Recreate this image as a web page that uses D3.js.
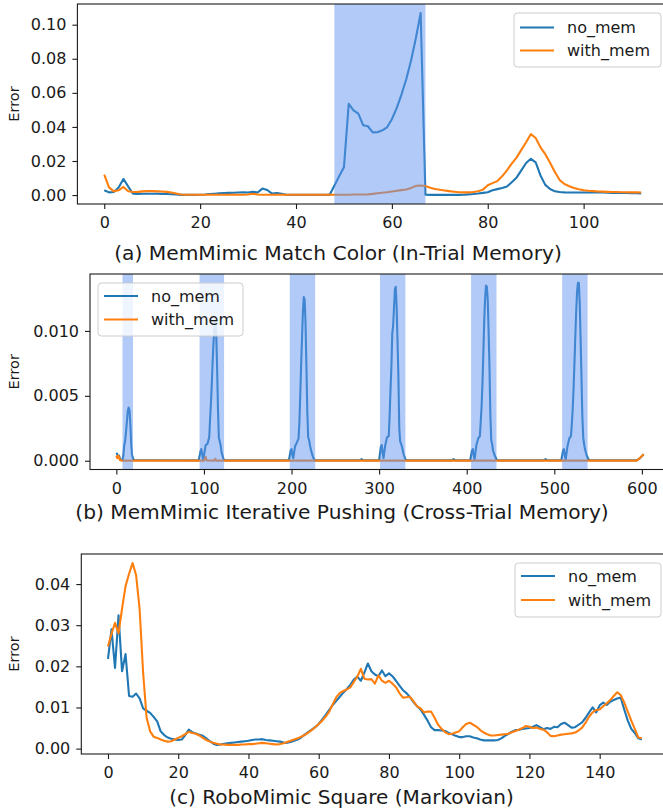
<!DOCTYPE html>
<html><head><meta charset="utf-8">
<script src="https://cdn.jsdelivr.net/npm/d3@7"></script>
<style>body{margin:0;background:#fff;} text{font-family:"DejaVu Sans",sans-serif;fill:#1a1a1a;}</style>
</head><body><svg id="c" width="663" height="812"></svg>
<script>
// ---------------- DATA ----------------
const seriesNames = ["no_mem", "with_mem"];
const seriesColors = ["#1f77b4", "#ff7f0e"];
const titles = [
  "(a) MemMimic Match Color (In-Trial Memory)",
  "(b) MemMimic Iterative Pushing (Cross-Trial Memory)",
  "(c) RoboMimic Square (Markovian)"
];
const yLabel = "Error";

// Panel (a): one value per step 0..112
const aNoMem = [
  0.0028,0.0016,0.0018,0.0045,0.0095,0.005,0.0008,0.0007,0.0008,0.0008,
  0.0008,0.0008,0.0007,0.0006,0.0005,0.0003,0.0001,0.0001,0.0001,0.0001,
  0.0002,0.0003,0.0006,0.0008,0.001,0.0012,0.0013,0.0014,0.0015,0.0016,
  0.0015,0.002,0.0015,0.0038,0.003,0.0009,0.0012,0.0008,0.0002,0.0001,
  0.0001,0.0001,0.0001,0.0001,0.0001,0.0001,0.0001,0.0001,
  0.0055,0.011,0.0163,0.0535,0.0497,0.0478,0.041,0.0404,0.0368,0.0369,0.038,0.0398,
  0.0445,0.051,0.059,0.068,0.079,0.092,0.1068,0.0002,0.0001,0.0001,
  0.0001,0.0001,0.0001,0.0001,0.0001,0.0002,0.0004,0.0006,0.0009,0.0013,
  0.0017,0.0028,0.0035,0.0042,0.005,0.0075,0.0102,0.0145,0.0188,0.0213,
  0.0192,0.0115,0.006,0.0036,0.0022,0.0018,0.0016,0.0015,0.0015,0.0015,
  0.0015,0.0015,0.0015,0.0015,0.0015,0.0014,0.0013,0.0013,0.0012,0.0012,0.0011,0.0011,0.001
];
const aWithMem = [
  0.012,0.0045,0.0022,0.0028,0.0048,0.0022,0.0018,0.0019,0.0022,0.0023,
  0.0023,0.0022,0.0021,0.0019,0.0015,0.0009,0.0003,0.0002,0.0002,0.0002,
  0.0002,0.0002,0.0002,0.0002,0.0002,0.0002,0.0002,0.0002,0.0002,0.0002,
  0.0003,0.0008,0.0003,0.0002,0.0002,0.0002,0.0002,0.0002,0.0002,0.0002,
  0.0002,0.0002,0.0002,0.0002,0.0002,0.0002,0.0002,0.0002,
  0.0002,0.0002,0.0002,0.0002,0.0003,0.0003,0.0003,0.0004,0.0007,0.0011,0.0014,0.0017,
  0.0021,0.0025,0.0029,0.0033,0.0042,0.0054,0.0056,0.0053,0.0043,0.0036,
  0.0031,0.0027,0.0023,0.002,0.0017,0.0016,0.0016,0.0018,0.0022,0.0032,
  0.0058,0.007,0.0082,0.011,0.0145,0.0185,0.022,0.0265,0.031,0.0358,
  0.0335,0.028,0.024,0.019,0.0135,0.0088,0.0065,0.0052,0.0042,0.0034,
  0.0028,0.0025,0.0023,0.0021,0.002,0.0019,0.0018,0.0018,0.0017,0.0017,0.0016,0.0016,0.0015
];
const aSpans = [[48, 67]];
const aXTicks = [0, 20, 40, 60, 80, 100];
const aYTicks = [0, 0.02, 0.04, 0.06, 0.08, 0.10];

// Panel (b): [step, value] points (steps 0..602)
const bNoMem = [
  [0,0.0006],[1,0.0005],[2,0.0003],[3,0.0004],[4,0.0002],[5,0.00005],[7,0.00005],[8,0.0004],[9,0.0012],[10,0.0015],
  [11,0.0022],[12,0.003],[13,0.0038],[14,0.0041],[15,0.0039],[16,0.0028],[17,0.0012],[18,0.0004],[19,0.0002],[20,0.00005],
  [94,0.00003],[96,0.0007],[97,0.0009],[98,0.0005],[99,0.0001],[100,0.0004],[102,0.0012],[104,0.0013],[106,0.0018],[107,0.0032],
  [108,0.0045],[109,0.006],[110,0.0078],[111,0.0092],[112,0.0102],[113,0.0107],[114,0.0098],[115,0.0072],[116,0.004],[117,0.0018],
  [118,0.0015],[119,0.0012],[120,0.0007],[122,0.0002],[123,0.00003],
  [197,0.00003],[199,0.0008],[200,0.0009],[201,0.0004],[202,0.0002],[204,0.0011],[206,0.0014],[208,0.0017],[209,0.003],[210,0.0052],
  [211,0.0075],[212,0.0095],[213,0.0115],[214,0.0126],[215,0.0124],[216,0.0105],[217,0.0072],[218,0.0038],[219,0.0018],[220,0.0016],
  [221,0.0012],[223,0.0006],[225,0.0002],[227,0.00003],
  [278,0.00003],[280,0.00012],[282,0.00003],
  [300,0.00003],[302,0.0011],[303,0.0012],[304,0.0006],[305,0.0002],[307,0.0012],[309,0.0018],[311,0.0019],[312,0.0035],[313,0.0055],
  [314,0.0072],[315,0.0098],[316,0.0104],[317,0.0118],[318,0.0132],[319,0.0134],[320,0.0118],[321,0.0092],[322,0.0065],[323,0.0025],
  [324,0.0015],[325,0.0013],[326,0.0011],[328,0.0005],[330,0.0001],[332,0.00003],
  [383,0.00003],[385,0.00012],[387,0.00003],
  [404,0.00003],[406,0.0008],[407,0.0009],[408,0.0004],[409,0.0001],[411,0.0012],[413,0.0017],[415,0.0019],[416,0.003],[417,0.0042],
  [418,0.006],[419,0.0083],[420,0.0108],[421,0.0125],[422,0.0135],[423,0.0134],[424,0.0124],[425,0.01],[426,0.0072],[427,0.0035],
  [428,0.0016],[429,0.0013],[430,0.0008],[432,0.0004],[434,0.0001],[436,0.00003],
  [488,0.00003],[490,0.00012],[492,0.00003],
  [508,0.00003],[510,0.0008],[511,0.0009],[512,0.0004],[513,0.0001],[515,0.0011],[517,0.0017],[519,0.0019],[520,0.0028],[521,0.004],
  [522,0.0055],[523,0.0075],[524,0.0096],[525,0.0115],[526,0.013],[527,0.0137],[528,0.0137],[529,0.0122],[530,0.0095],[531,0.0065],
  [532,0.0035],[533,0.0018],[534,0.0013],[535,0.0009],[537,0.0004],[539,0.0001],[541,0.00003],
  [594,0.00003],[598,0.0002],[602,0.0005]
];
const bWithMem = [
  [0,0.0004],[1,0.0002],[2,0.0004],[3,0.0003],[4,0.00005],[6,0.00001],[100,0.00001],[102,0.0003],[103,0.00002],
  [112,0.00001],[113,0.00015],[114,0.00001],[594,0.00001],[596,0.0001],[602,0.0005]
];
const bSpans = [[7,19],[95,123],[198,227],[301,330],[405,434],[509,538]];
const bXTicks = [0, 100, 200, 300, 400, 500, 600];
const bYTicks = [0, 0.005, 0.010];

// Panel (c): one value per step 0..152
const cNoMem = [
  0.0218,0.029,0.0196,0.0324,0.0188,0.023,0.0128,0.0126,0.0134,0.0122,
  0.0098,0.0092,0.0087,0.0077,0.0066,0.0042,0.0033,0.0027,0.0024,0.0022,
  0.0021,0.0022,0.0033,0.0046,0.004,0.0037,0.0034,0.0031,0.0025,0.0018,
  0.0012,0.0009,0.001,0.0012,0.0013,0.0014,0.0015,0.0016,0.0017,0.0018,
  0.0019,0.0021,0.0022,0.0022,0.0023,0.0021,0.002,0.0019,0.0018,0.0017,
  0.0015,0.0014,0.0016,0.0019,0.0022,0.0027,0.0034,0.004,0.0046,0.0052,
  0.006,0.0071,0.0082,0.0094,0.0106,0.0116,0.0126,0.0136,0.0145,0.0155,
  0.0168,0.0175,0.0165,0.0185,0.0207,0.0188,0.018,0.0176,0.019,0.0176,
  0.0183,0.0176,0.0165,0.0153,0.0142,0.0135,0.0125,0.0113,0.0103,0.0095,
  0.0082,0.0068,0.0052,0.0045,0.0045,0.0044,0.0043,0.0038,0.0035,0.0031,
  0.0028,0.0028,0.003,0.003,0.0027,0.0025,0.0022,0.002,0.002,0.002,
  0.002,0.0021,0.0025,0.0031,0.0036,0.0041,0.0045,0.0046,0.0048,0.0049,
  0.005,0.0053,0.0057,0.0052,0.0047,0.005,0.0048,0.0053,0.0052,0.006,
  0.0063,0.0057,0.0051,0.0052,0.0058,0.0064,0.0075,0.0088,0.01,0.0088,
  0.0105,0.0112,0.0106,0.0114,0.0118,0.0122,0.0124,0.0095,0.0068,0.0048,
  0.0038,0.0025,0.0022
];
const cWithMem = [
  0.0248,0.0279,0.0306,0.028,0.034,0.0395,0.0425,0.0451,0.0422,0.034,
  0.0185,0.0075,0.0042,0.0029,0.0026,0.0022,0.0019,0.0017,0.0018,0.0022,
  0.0026,0.003,0.0035,0.0041,0.0038,0.0036,0.0032,0.0026,0.0021,0.0017,
  0.0014,0.0012,0.001,0.001,0.0009,0.0009,0.0009,0.0009,0.001,0.001,
  0.0011,0.0011,0.0012,0.0013,0.0014,0.0013,0.0012,0.0011,0.001,0.0011,
  0.0013,0.0016,0.0019,0.0022,0.0025,0.0029,0.0033,0.0039,0.0045,0.0052,
  0.006,0.0068,0.0078,0.009,0.0108,0.0125,0.0135,0.014,0.0144,0.0149,
  0.0162,0.0175,0.0194,0.017,0.0168,0.0169,0.0158,0.0178,0.0165,0.016,
  0.0165,0.0158,0.0149,0.0135,0.0124,0.0125,0.0126,0.0115,0.0103,0.0098,
  0.0088,0.009,0.009,0.0075,0.0058,0.0048,0.004,0.0035,0.0036,0.0039,
  0.0042,0.0052,0.006,0.0063,0.0058,0.0053,0.0045,0.0039,0.0035,0.0032,
  0.0032,0.0033,0.0034,0.0035,0.0036,0.004,0.0043,0.0046,0.005,0.0055,
  0.0053,0.005,0.0051,0.0048,0.0046,0.004,0.0031,0.003,0.0032,0.0034,
  0.0035,0.0036,0.0037,0.0039,0.0044,0.0051,0.0063,0.0078,0.0088,0.0094,
  0.0095,0.0103,0.011,0.0118,0.0128,0.0137,0.013,0.0112,0.009,0.0068,
  0.0048,0.0027,0.0025
];
const cXTicks = [0, 20, 40, 60, 80, 100, 120, 140];
const cYTicks = [0, 0.01, 0.02, 0.03, 0.04];

// ---------------- LAYOUT ----------------
const svg = d3.select("#c");
const toPairs = arr => arr.map((v, i) => [i, v]);

const panels = [
  { series: [toPairs(aNoMem), toPairs(aWithMem)], spans: aSpans, xt: aXTicks, yt: aYTicks, yfmt: ".2f",
    box: { l: 77.4, r: 668, t: 4, b: 204 }, title: titles[0], titleX: 338, titleY: 260, titleW: 448,
    legend: { x: 514, y: 13, w: 147, h: 54, l1: 27.5, gap: 23 } },
  { series: [bNoMem, bWithMem], spans: bSpans, xt: bXTicks, yt: bYTicks, yfmt: ".3f",
    box: { l: 90, r: 670, t: 274, b: 469.5 }, title: titles[1], titleX: 342, titleY: 519, titleW: 534,
    legend: { x: 98, y: 283, w: 145, h: 53, l1: 296, gap: 23.5 } },
  { series: [toPairs(cNoMem), toPairs(cWithMem)], spans: [], xt: cXTicks, yt: cYTicks, yfmt: ".2f",
    box: { l: 81.3, r: 668.5, t: 554, b: 754 }, title: titles[2], titleX: 341.5, titleY: 804, titleW: 345,
    legend: { x: 515, y: 563, w: 146, h: 54, l1: 576, gap: 24 } }
];

panels.forEach(p => {
  const all = p.series.flat();
  const xe = d3.extent(all, d => d[0]), ye = d3.extent(all, d => d[1]);
  const xm = (xe[1] - xe[0]) * 0.05, ym = (ye[1] - ye[0]) * 0.05;
  const x = d3.scaleLinear().domain([xe[0] - xm, xe[1] + xm]).range([p.box.l, p.box.r]);
  const y = d3.scaleLinear().domain([ye[0] - ym, ye[1] + ym]).range([p.box.b, p.box.t]);
  const g = svg.append("g");
  const clipId = "clip" + Math.random().toString(36).slice(2);
  g.append("clipPath").attr("id", clipId).append("rect")
    .attr("x", p.box.l).attr("y", p.box.t).attr("width", p.box.r - p.box.l).attr("height", p.box.b - p.box.t);
  const plot = g.append("g").attr("clip-path", `url(#${clipId})`);
  const line = d3.line().x(d => x(d[0])).y(d => y(d[1]));
  p.series.forEach((s, i) => {
    plot.append("path").datum(s).attr("d", line).attr("fill", "none")
      .attr("stroke", seriesColors[i]).attr("stroke-width", 2.1).attr("stroke-linejoin", "round");
  });
  p.spans.forEach(sp => {
    plot.append("rect").attr("x", x(sp[0])).attr("width", x(sp[1]) - x(sp[0]))
      .attr("y", p.box.t).attr("height", p.box.b - p.box.t)
      .attr("fill", "rgb(100,150,240)").attr("fill-opacity", 0.5);
  });
  // axes
  const xa = g.append("g").attr("transform", `translate(0,${p.box.b})`)
    .call(d3.axisBottom(x).tickValues(p.xt).tickFormat(d3.format("d")).tickSize(5).tickPadding(8).tickSizeOuter(0));
  const ya = g.append("g").attr("transform", `translate(${p.box.l},0)`)
    .call(d3.axisLeft(y).tickValues(p.yt).tickFormat(d3.format(p.yfmt)).tickSize(5).tickPadding(6).tickSizeOuter(0));
  [xa, ya].forEach(a => {
    a.select(".domain").remove();
    a.selectAll("line").attr("stroke", "#1a1a1a").attr("stroke-width", 1.1);
    a.selectAll("text").attr("font-size", 16).attr("font-family", "DejaVu Sans").attr("fill", "#1a1a1a");
  });
  // frame
  g.append("rect").attr("x", p.box.l).attr("y", p.box.t).attr("width", p.box.r - p.box.l)
    .attr("height", p.box.b - p.box.t).attr("fill", "none").attr("stroke", "#1a1a1a").attr("stroke-width", 1.1);
  // y label
  g.append("text").attr("transform", `translate(19,${(p.box.t + p.box.b) / 2}) rotate(-90)`)
    .attr("text-anchor", "middle").attr("font-size", 14.5).text(yLabel);
  // legend
  const L = p.legend;
  const lg = g.append("g");
  lg.append("rect").attr("x", L.x).attr("y", L.y).attr("width", L.w).attr("height", L.h)
    .attr("rx", 3.5).attr("fill", "#fff").attr("fill-opacity", 0.8).attr("stroke", "#cccccc").attr("stroke-width", 1);
  seriesNames.forEach((n, i) => {
    const yy = L.l1 + i * L.gap;
    lg.append("line").attr("x1", L.x + 6).attr("x2", L.x + 40).attr("y1", yy).attr("y2", yy)
      .attr("stroke", seriesColors[i]).attr("stroke-width", 2.1);
    lg.append("text").attr("x", L.x + 53).attr("y", yy + 5.5).attr("font-size", 16).text(n);
  });
  // title fitted to measured width
  const t = g.append("text").attr("x", p.titleX).attr("y", p.titleY).attr("text-anchor", "middle")
    .attr("font-family", "'Noto Sans', 'DejaVu Sans', sans-serif").attr("font-size", 18).text(p.title);
  const len = t.node().getComputedTextLength();
  t.attr("font-size", 18 * p.titleW / len);
});
</script></body></html>
